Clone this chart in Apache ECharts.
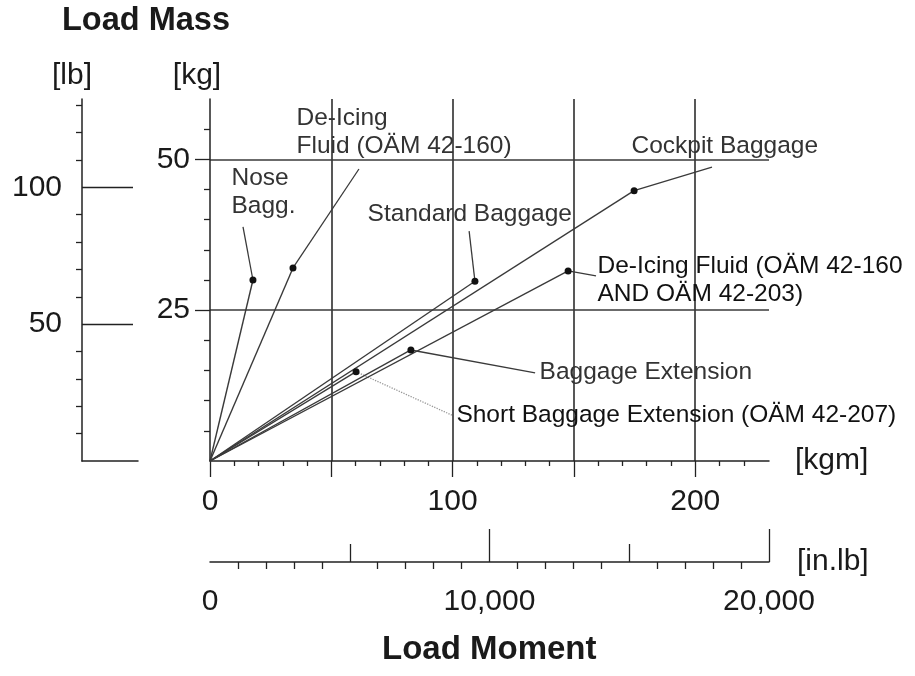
<!DOCTYPE html>
<html>
<head>
<meta charset="utf-8">
<title>Load Mass / Load Moment</title>
<script src="https://cdn.jsdelivr.net/npm/echarts@6.0.0/dist/echarts.min.js"></script>
<style>
    html, body { margin: 0; padding: 0; background: #fff; }
    #main { width: 915px; height: 676px; }
</style>
</head>
<body>
<div id="main"></div>
<script>
// loading stations: moment [kgm] and mass [kg] at the marked point
var stationNames = ['Nose Bagg.', 'De-Icing Fluid (OÄM 42-160)', 'Standard Baggage', 'Cockpit Baggage',
    'De-Icing Fluid (OÄM 42-160 AND OÄM 42-203)', 'Baggage Extension', 'Short Baggage Extension (OÄM 42-207)'];
var stationLabels = ['Nose\nBagg.', 'De-Icing\nFluid (OÄM 42-160)', 'Standard Baggage', 'Cockpit Baggage',
    'De-Icing Fluid (OÄM 42-160\nAND OÄM 42-203)', 'Baggage Extension', 'Short Baggage Extension (OÄM 42-207)'];
var pointMoment = [17.7, 34.2, 109.2, 174.8, 147.6, 82.8, 60.2];
var pointMass = [30.0, 32.0, 29.8, 44.8, 31.5, 18.4, 14.8];
// end of each leader line (next to its text)
var leaderMoment = [13.6, 61.4, 106.8, 206.9, 159.1, 134.0, 99.7];
var leaderMass = [38.8, 48.4, 38.1, 48.7, 30.7, 14.6, 7.6];

// axis ticks
var kgmLabels = [0, 100, 200];
var kgmGrid = [0, 50, 100, 150, 200];
var kgmMinor = [10, 20, 30, 40, 60, 70, 80, 90, 110, 120, 130, 140, 160, 170, 180, 190, 210, 220];
var kgLabels = [25, 50];
var kgMinor = [5, 10, 15, 20, 30, 35, 40, 45, 55];
var lbLabels = [50, 100];
var lbMinor = [10, 20, 30, 40, 60, 70, 80, 90, 110, 120, 130];
var inlbLabels = [0, 10000, 20000];
var inlbHalf = [5000, 15000];
var inlbFull = [10000, 20000];
var inlbMinor = [1000, 2000, 3000, 4000, 6000, 7000, 8000, 9000, 11000, 12000, 13000, 14000,
    16000, 17000, 18000, 19000];

var KGM_MAX = 230.4;            // 20,000 in.lb
var INLB_MAX = 20000;
var KG_MAX = 60;
var LB_MAX = KG_MAX / 0.45359237;

// styles
var FONT = '"Liberation Sans", Arial, sans-serif';
var INK = '#1a1a1a';
var axisLine = { show: true, onZero: false, lineStyle: { color: '#222', width: 1.5 } };
var tickLine = { color: '#222', width: 1.3 };
var gridLine = { color: '#3a3a3a', width: 1.7 };
var labelOffsets = [[-11, -62], [-62, -64], [-101, -30], [-80, -34], [2, -23], [5, -14], [5, -13]];
var labelColors = ['#333', '#333', '#333', '#333', '#111', '#333', '#111'];

var series = [];
for (var i = 0; i < stationNames.length; i++) {
    // line from the origin to the marked point
    series.push({
        type: 'line',
        name: stationNames[i],
        xAxisIndex: 0,
        yAxisIndex: 0,
        data: [[0, 0], [pointMoment[i], pointMass[i]]],
        symbol: 'circle',
        symbolSize: function (val) { return val[0] === 0 ? 0 : 7; },
        itemStyle: { color: '#111' },
        lineStyle: { color: '#3a3a3a', width: 1.4 },
        z: 5
    });
    // leader to the text
    series.push({
        type: 'line',
        xAxisIndex: 0,
        yAxisIndex: 0,
        data: [
            [pointMoment[i], pointMass[i]],
            {
                value: [leaderMoment[i], leaderMass[i]],
                label: {
                    show: true,
                    position: labelOffsets[i],
                    formatter: stationLabels[i],
                    fontFamily: FONT,
                    fontSize: 24.5,
                    lineHeight: 28,
                    color: labelColors[i]
                }
            }
        ],
        symbol: 'circle',
        symbolSize: 1,
        itemStyle: { color: 'transparent' },
        lineStyle: i === 6 ? { color: '#999', width: 1.3, type: 'dotted' } : { color: '#3a3a3a', width: 1.3 },
        z: 4
    });
}

var option = {
    animation: false,
    backgroundColor: '#fff',
    title: [
        { text: 'Load Mass', left: 62, top: 5, padding: 0,
          textStyle: { fontFamily: FONT, fontSize: 32.5, fontWeight: 'bold', color: INK } },
        { text: 'Load Moment', left: 382, top: 633, padding: 0,
          textStyle: { fontFamily: FONT, fontSize: 33, fontWeight: 'bold', color: INK } }
    ],
    grid: [
        { left: 210, top: 99, width: 559, height: 362 },   // main chart
        { left: 82, top: 99, width: 56, height: 362 },     // lb scale
        { left: 210, top: 500, width: 559, height: 62 }    // in.lb scale
    ],
    xAxis: [
        {   // kgm
            gridIndex: 0, type: 'value', min: 0, max: KGM_MAX, interval: 50,
            axisLine: axisLine,
            axisTick: { show: true, length: 16, customValues: kgmGrid, lineStyle: tickLine },
            axisLabel: { customValues: kgmLabels, fontFamily: FONT, fontSize: 30, margin: 26, color: INK },
            splitLine: { show: true, showMinLine: false, showMaxLine: true, lineStyle: gridLine },
            name: '[kgm]', nameLocation: 'end', nameGap: 26,
            nameTextStyle: { fontFamily: FONT, fontSize: 30, color: INK, padding: [10, 0, 0, 0] }
        },
        {   // kgm minor ticks
            gridIndex: 0, type: 'value', min: 0, max: KGM_MAX, interval: 10, position: 'bottom',
            axisLine: { show: false },
            axisTick: { show: true, length: 5, customValues: kgmMinor, lineStyle: tickLine },
            axisLabel: { show: false },
            splitLine: { show: false }
        },
        {   // foot of the lb scale
            gridIndex: 1, type: 'value', min: 0, max: 1,
            axisLine: axisLine,
            axisTick: { show: false }, axisLabel: { show: false }, splitLine: { show: false }
        },
        {   // in.lb
            gridIndex: 2, type: 'value', min: 0, max: INLB_MAX, interval: 1000,
            axisLine: axisLine,
            axisTick: { show: true, length: 7, customValues: inlbMinor, lineStyle: tickLine },
            axisLabel: {
                customValues: inlbLabels, fontFamily: FONT, fontSize: 30, margin: 25, color: INK,
                formatter: function (v) { return v.toLocaleString('en-US'); }
            },
            splitLine: { show: false },
            name: '[in.lb]', nameLocation: 'end', nameGap: 28,
            nameTextStyle: { fontFamily: FONT, fontSize: 30, color: INK, padding: [10, 0, 0, 0] }
        },
        {
            gridIndex: 2, type: 'value', min: 0, max: INLB_MAX, position: 'bottom',
            axisLine: { show: false },
            axisTick: { show: true, inside: true, length: 18, customValues: inlbHalf, lineStyle: tickLine },
            axisLabel: { show: false }, splitLine: { show: false }
        },
        {
            gridIndex: 2, type: 'value', min: 0, max: INLB_MAX, position: 'bottom',
            axisLine: { show: false },
            axisTick: { show: true, inside: true, length: 33, customValues: inlbFull, lineStyle: tickLine },
            axisLabel: { show: false }, splitLine: { show: false }
        }
    ],
    yAxis: [
        {   // kg axis line + minor ticks
            gridIndex: 0, type: 'value', min: 0, max: KG_MAX, interval: 5,
            axisLine: axisLine,
            axisTick: { show: true, length: 6, customValues: kgMinor, lineStyle: tickLine },
            axisLabel: { show: false },
            splitLine: { show: false }
        },
        {   // kg labels and grid
            gridIndex: 0, type: 'value', min: 0, max: KG_MAX, interval: 25, position: 'left',
            axisLine: { show: false },
            axisTick: { show: true, length: 15, customValues: kgLabels, lineStyle: tickLine },
            axisLabel: { customValues: kgLabels, fontFamily: FONT, fontSize: 30, margin: 20, color: INK },
            splitLine: { show: true, showMinLine: true, showMaxLine: true, lineStyle: gridLine },
            name: '[kg]', nameLocation: 'end', nameGap: 8,
            nameTextStyle: { fontFamily: FONT, fontSize: 30, color: INK, padding: [0, 26, 0, 0] }
        },
        {   // lb axis line + minor ticks
            gridIndex: 1, type: 'value', min: 0, max: LB_MAX, interval: 10,
            axisLine: axisLine,
            axisTick: { show: true, length: 6, customValues: lbMinor, lineStyle: tickLine },
            axisLabel: { show: false },
            splitLine: { show: false }
        },
        {   // lb labels
            gridIndex: 1, type: 'value', min: 0, max: LB_MAX, interval: 50, position: 'left',
            axisLine: { show: false },
            axisTick: { show: true, inside: true, length: 51, customValues: lbLabels, lineStyle: tickLine },
            axisLabel: { customValues: lbLabels, fontFamily: FONT, fontSize: 30, margin: 20, color: INK },
            splitLine: { show: false },
            name: '[lb]', nameLocation: 'end', nameGap: 8,
            nameTextStyle: { fontFamily: FONT, fontSize: 30, color: INK, padding: [0, 20, 0, 0] }
        },
        { gridIndex: 2, type: 'value', show: false }
    ],
    series: series
};

var chart = echarts.init(document.getElementById('main'), null, { renderer: 'canvas' });
chart.setOption(option);
</script>
</body>
</html>
